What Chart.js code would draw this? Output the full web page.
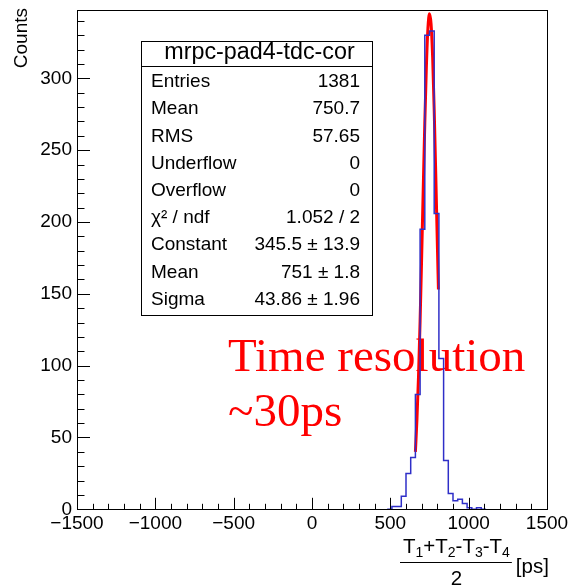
<!DOCTYPE html>
<html>
<head>
<meta charset="utf-8">
<script src="https://cdn.jsdelivr.net/npm/chart.js@4.4.1/dist/chart.umd.min.js"></script>
<style>
  html, body { margin: 0; padding: 0; background: #fff; }
</style>
</head>
<body>
<canvas id="chart" width="570" height="586"></canvas>
<script>
// histogram: lower bin edges [ps] and counts (30 ps bins)
const binEdges = [480, 510, 540, 570, 600, 630, 660, 690, 720, 750, 780, 810, 840, 870, 900, 930, 960, 990, 1020, 1050, 1080];
const binCounts = [0, 2, 2, 9, 25, 36, 80, 195, 330, 333, 206, 105, 34, 11, 6, 7, 4, 1, 0, 1, 0];
const binWidth = 30;

// gaussian fit curve
const fitX = [660, 670, 680, 690, 700, 710, 720, 730, 740, 750, 760, 770, 780, 790, 800, 807];
const fitY = [40, 63, 93, 131, 176, 223, 269, 308, 335, 345, 338, 315, 278, 233, 185, 153];

// axis tick labels
const xTicks = [-1500, -1000, -500, 0, 500, 1000, 1500];
const yTicks = [0, 50, 100, 150, 200, 250, 300];

// stats box
const statsTitle = "mrpc-pad4-tdc-cor";
const statsNames = ["Entries", "Mean", "RMS", "Underflow", "Overflow", "\u03C7\u00B2 / ndf", "Constant", "Mean", "Sigma"];
const statsValues = ["1381", "750.7", "57.65", "0", "0", "1.052 / 2", "345.5 \u00B1 13.9", "751 \u00B1 1.8", "43.86 \u00B1 1.96"];

const noteLines = ["Time resolution", "~30ps"];

const histPoints = binEdges.map((e, i) => ({ x: e, y: binCounts[i] }));
histPoints.push({ x: binEdges[binEdges.length - 1] + binWidth, y: 0 });
const fitPoints = fitX.map((x, i) => ({ x: x, y: fitY[i] }));

const SANS = "'Liberation Sans', Arial, Helvetica, sans-serif";

const rootPlugin = {
  id: "rootStyle",
  beforeDatasetsDraw(chart) {
    const ctx = chart.ctx;
    ctx.save();
    ctx.fillStyle = "#ff0000";
    ctx.font = "47px 'Liberation Serif', 'Times New Roman', serif";
    ctx.textBaseline = "alphabetic";
    ctx.textAlign = "left";
    ctx.fillText(noteLines[0], 228, 371);
    ctx.fillText(noteLines[1], 228, 426);
    ctx.restore();
  },
  afterDatasetsDraw(chart) {
    const ctx = chart.ctx;
    const a = chart.chartArea;
    const xs = chart.scales.x, ys = chart.scales.y;
    ctx.save();
    ctx.strokeStyle = "#000";
    ctx.lineWidth = 1;
    // frame
    ctx.strokeRect(Math.round(a.left) + 0.5, Math.round(a.top) + 0.5, Math.round(a.right - a.left), Math.round(a.bottom - a.top));
    ctx.beginPath();
    // x ticks (inward)
    for (let v = -1500; v <= 1500; v += 100) {
      const px = Math.round(xs.getPixelForValue(v)) + 0.5;
      const len = v % 500 === 0 ? 11.5 : 5.5;
      ctx.moveTo(px, a.bottom);
      ctx.lineTo(px, a.bottom - len);
    }
    // y ticks (inward)
    for (let v = 0; v <= ys.max; v += 10) {
      const py = Math.round(ys.getPixelForValue(v)) + 0.5;
      const len = v % 50 === 0 ? 13 : 7.5;
      ctx.moveTo(a.left, py);
      ctx.lineTo(a.left + len, py);
    }
    ctx.stroke();
    ctx.restore();
  },
  afterDraw(chart) {
    const ctx = chart.ctx;
    ctx.save();
    // y title
    ctx.fillStyle = "#000";
    ctx.font = "19px " + SANS;
    ctx.translate(22, 8);
    ctx.rotate(-Math.PI / 2);
    ctx.textAlign = "right";
    ctx.textBaseline = "middle";
    ctx.fillText("Counts", 0, 0);
    ctx.restore();

    // x title: (T1+T2-T3-T4)/2 [ps]
    ctx.save();
    ctx.fillStyle = "#000";
    ctx.strokeStyle = "#000";
    const big = "20.5px " + SANS, small = "14px " + SANS;
    const parts = [["T", 0], ["1", 1], ["+T", 0], ["2", 1], ["-T", 0], ["3", 1], ["-T", 0], ["4", 1]];
    let w = 0;
    parts.forEach(p => { ctx.font = p[1] ? small : big; w += ctx.measureText(p[0]).width; });
    const numLeft = 403, numBase = 553;
    let cx = numLeft;
    ctx.textBaseline = "alphabetic";
    ctx.textAlign = "left";
    parts.forEach(p => {
      ctx.font = p[1] ? small : big;
      ctx.fillText(p[0], cx, p[1] ? numBase + 4 : numBase);
      cx += ctx.measureText(p[0]).width;
    });
    ctx.lineWidth = 1;
    ctx.beginPath();
    ctx.moveTo(numLeft - 3, 562.5);
    ctx.lineTo(numLeft + w + 2, 562.5);
    ctx.stroke();
    ctx.font = big;
    ctx.textAlign = "center";
    ctx.fillText("2", numLeft + w / 2, 585);
    ctx.textAlign = "left";
    ctx.fillText("[ps]", numLeft + w + 6, 573);
    ctx.restore();

    // stats box
    ctx.save();
    const bx = 141, by = 41, bw = 231, bh = 274;
    ctx.fillStyle = "#fff";
    ctx.fillRect(bx, by, bw, bh);
    ctx.strokeStyle = "#000";
    ctx.lineWidth = 1;
    ctx.strokeRect(bx + 0.5, by + 0.5, bw, bh);
    ctx.beginPath();
    ctx.moveTo(bx, 66.5);
    ctx.lineTo(bx + bw, 66.5);
    ctx.stroke();
    ctx.fillStyle = "#000";
    ctx.textBaseline = "middle";
    ctx.font = "23.3px " + SANS;
    ctx.textAlign = "center";
    ctx.fillText(statsTitle, bx + bw / 2 + 3, 53);
    ctx.font = "19px " + SANS;
    statsNames.forEach((n, i) => {
      const y = 82 + i * 27.2;
      ctx.textAlign = "left";
      ctx.fillText(n, 151, y);
      ctx.textAlign = "right";
      ctx.fillText(statsValues[i], 360, y);
    });
    ctx.restore();
  }
};

new Chart(document.getElementById("chart"), {
  type: "line",
  data: {
    datasets: [
      {
        data: histPoints,
        borderColor: "#2f2fc8",
        borderWidth: 1.5,
        stepped: true,
        pointRadius: 0,
        fill: false
      },
      {
        data: fitPoints,
        borderColor: "#ff0000",
        borderWidth: 3,
        cubicInterpolationMode: "monotone",
        pointRadius: 0,
        fill: false
      }
    ]
  },
  options: {
    responsive: false,
    animation: false,
    devicePixelRatio: 1,
    layout: { padding: { left: 0, top: 10, right: 23, bottom: 0 } },
    plugins: { legend: { display: false }, tooltip: { enabled: false } },
    scales: {
      x: {
        type: "linear",
        min: -1500,
        max: 1500,
        grid: { display: false, drawTicks: false },
        border: { display: false },
        afterFit: s => { s.height = 76.7; s.paddingLeft = 0; s.paddingRight = 0; },
        afterBuildTicks: s => { s.ticks = xTicks.map(v => ({ value: v })); },
        ticks: {
          autoSkip: false,
          maxRotation: 0,
          padding: 3,
          color: "#000",
          font: { family: SANS, size: 19 },
          callback: v => String(v).replace("-", "\u2212")
        }
      },
      y: {
        type: "linear",
        min: 0,
        max: 347.6,
        grid: { display: false, drawTicks: false },
        border: { display: false },
        afterFit: s => { s.width = 77; s.paddingTop = 0; s.paddingBottom = 0; },
        afterBuildTicks: s => { s.ticks = yTicks.map(v => ({ value: v })); },
        ticks: {
          autoSkip: false,
          padding: 5,
          color: "#000",
          font: { family: SANS, size: 19 }
        }
      }
    }
  },
  plugins: [rootPlugin]
});
</script>
</body>
</html>
